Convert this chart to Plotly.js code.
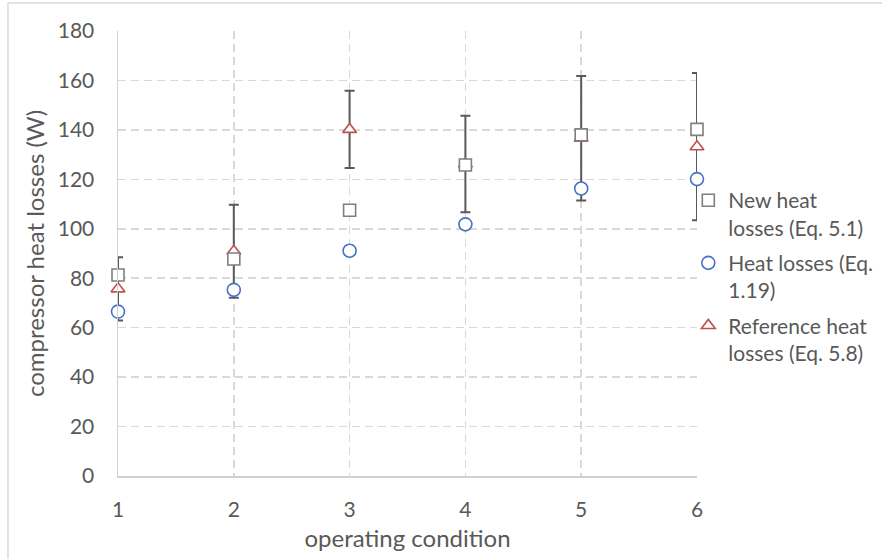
<!DOCTYPE html>
<html>
<head>
<meta charset="utf-8">
<script src="https://cdn.plot.ly/plotly-3.0.1.min.js"></script>
<style>html,body{margin:0;padding:0;background:#fff;}#chart{width:882px;height:559px;}</style>
</head>
<body>
<div id="chart"></div>
<script>
const conditions = [1, 2, 3, 4, 5, 6];
const newHeatLosses = [81.3, 87.8, 107.5, 125.8, 138, 140.2];
const heatLosses = [66.5, 75.3, 91.1, 101.8, 116.3, 120.1];
const referenceHeatLosses = [75.7, 90.9, 140.2, 126.2, 136.6, 133.2];
const referenceError = [12.8, 18.8, 15.6, 19.5, 25.2, 29.8];
const yTicks = [0, 20, 40, 60, 80, 100, 120, 140, 160, 180];
const names = ["New heat<br>losses (Eq. 5.1)", "Heat losses (Eq.<br>1.19)", "Reference heat<br>losses (Eq. 5.8)"];

const font = "Lato, 'Open Sans', sans-serif";
const grey = '#595959';

const data = [
  {
    x: conditions, y: referenceHeatLosses, name: names[2], type: 'scatter', mode: 'markers',
    legendrank: 3, legendgroup: 'c', cliponaxis: false,
    marker: {symbol: 'triangle-up', size: 12, color: '#ffffff', line: {color: '#c0504d', width: 1.6}},
    error_y: {type: 'data', array: referenceError, visible: true, color: grey, thickness: 2, width: 5}
  },
  {
    x: conditions, y: newHeatLosses, name: names[0], type: 'scatter', mode: 'markers',
    legendrank: 1, legendgroup: 'a', cliponaxis: false,
    marker: {symbol: 'square', size: 12, color: '#ffffff', line: {color: '#7f7f7f', width: 1.6}}
  },
  {
    x: conditions, y: heatLosses, name: names[1], type: 'scatter', mode: 'markers',
    legendrank: 2, legendgroup: 'b', cliponaxis: false,
    marker: {symbol: 'circle', size: 13, color: '#ffffff', line: {color: '#4472c4', width: 1.6}}
  }
];

const layout = {
  width: 882, height: 559,
  margin: {l: 118, r: 185, t: 31, b: 83, autoexpand: false},
  paper_bgcolor: '#ffffff', plot_bgcolor: '#ffffff',
  font: {family: font, color: grey, size: 21},
  showlegend: true,
  legend: {
    x: 0.985, y: 0.665, xanchor: 'left', yanchor: 'top',
    font: {family: font, size: 21, color: grey},
    valign: 'top',
    tracegroupgap: 5, itemwidth: 30,
    bgcolor: 'rgba(0,0,0,0)'
  },
  xaxis: {
    range: [1, 6], tickvals: conditions, ticktext: conditions.map(String),
    showgrid: true, gridcolor: '#d9d9d9', griddash: '8px,5px', gridwidth: 1.5,
    showline: true, linecolor: '#d0d0d0', linewidth: 1.5,
    zeroline: false, ticks: '', ticklen: 0, ticklabelstandoff: 14,
    tickfont: {family: font, size: 21, color: grey},
    title: {text: 'operating condition', font: {family: font, size: 24, color: grey}, standoff: 10},
    automargin: false
  },
  yaxis: {
    range: [0, 180], tickvals: yTicks,
    showgrid: true, gridcolor: '#d9d9d9', griddash: '8px,5px', gridwidth: 1.5,
    showline: true, linecolor: '#d0d0d0', linewidth: 1.5,
    zeroline: false, ticks: '', ticklen: 0, ticklabelstandoff: 18,
    tickfont: {family: font, size: 21, color: grey},
    title: {text: 'compressor heat losses (W)', font: {family: font, size: 24, color: grey}, standoff: 6},
    automargin: false
  },
  shapes: [
    {type: 'line', xref: 'paper', yref: 'paper', x0: -0.19, x1: 1.33, y0: 1.0629, y1: 1.0629, line: {color: '#d9d9d9', width: 1.5}},
    {type: 'line', xref: 'paper', yref: 'paper', x0: -0.19, x1: -0.19, y0: 1.0629, y1: -0.19, line: {color: '#d9d9d9', width: 1.5}}
  ]
};

Plotly.newPlot('chart', data, layout, {displayModeBar: false, staticPlot: true});
</script>
</body>
</html>
